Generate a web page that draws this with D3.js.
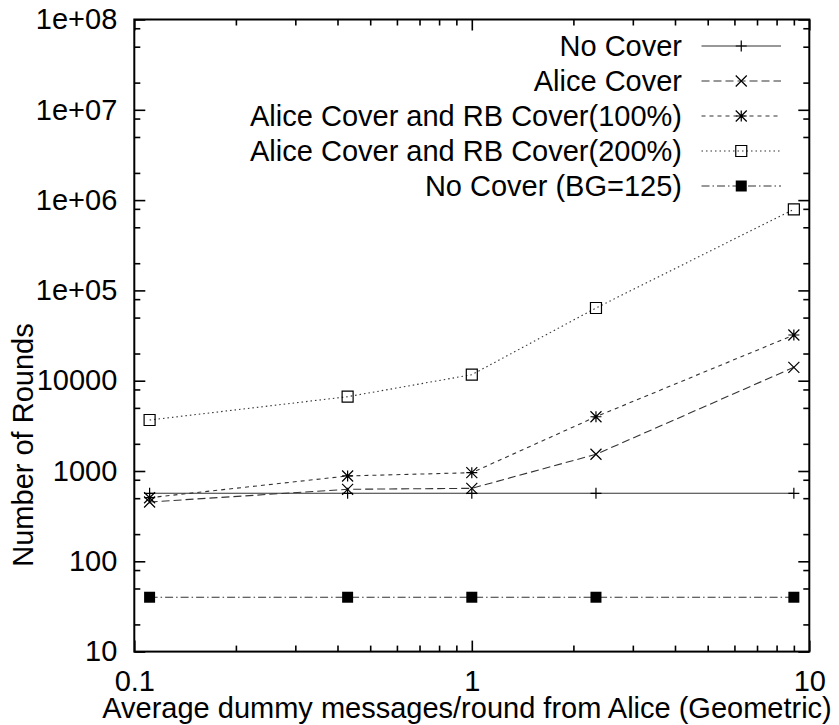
<!DOCTYPE html>
<html>
<head>
<meta charset="utf-8">
<script src="https://cdn.jsdelivr.net/npm/d3@7"></script>
<style>
  html, body { margin: 0; padding: 0; background: #fff; }
  svg { display: block; }
  text { font-family: "Liberation Sans", Arial, Helvetica, sans-serif; fill: #000; }
</style>
</head>
<body>
<svg id="chart" width="839" height="725"></svg>
<script>
// ---- data ----
const xValues = [0.111, 0.4286, 1, 2.333, 9];
const noCover = [566, 566, 566, 566, 566];
const aliceCover = [454, 627, 643, 1531, 14060];
const rbCover100 = [506, 881, 958, 3990, 32060];
const rbCover200 = [3670, 6650, 11650, 63800, 791000];
const noCoverBG125 = [40, 40, 40, 40, 40];
const seriesNames = ["No Cover", "Alice Cover", "Alice Cover and RB Cover(100%)", "Alice Cover and RB Cover(200%)", "No Cover (BG=125)"];
const xTickValues = [0.1, 1, 10];
const xTickLabels = ["0.1", "1", "10"];
const yTickValues = [10, 100, 1000, 10000, 1e5, 1e6, 1e7, 1e8];
const yTickLabels = ["10", "100", "1000", "10000", "1e+05", "1e+06", "1e+07", "1e+08"];
const xTitle = "Average dummy messages/round from Alice (Geometric)";
const yTitle = "Number of Rounds";

// ---- layout ----
const L = 134.3, R = 809.3, T = 19.5, B = 651.6;
const FS = 29;
const svg = d3.select("#chart");

const x = d3.scaleLog().domain([0.1, 10]).range([L, R]);
const y = d3.scaleLog().domain([10, 1e8]).range([B, T]);

// minor ticks
const xMinor = [];
[0.1, 1].forEach(d => { for (let k = 2; k <= 9; k++) xMinor.push(d * k); });
const yMinor = [];
[10, 100, 1000, 1e4, 1e5, 1e6, 1e7].forEach(d => { [2, 5, 8].forEach(k => yMinor.push(d * k)); });

const MAJ = 11, MIN = 6;

function styleAxis(g) {
  g.select(".domain").remove();
  g.selectAll(".tick line").attr("stroke", "#000").attr("stroke-width", 1.6);
  g.selectAll(".tick text").style("font-size", FS + "px").attr("fill", "#000");
}

// bottom major (with labels)
svg.append("g").attr("transform", `translate(0,${B})`)
  .call(d3.axisBottom(x).tickValues(xTickValues).tickFormat((d, i) => xTickLabels[i]).tickSize(-MAJ).tickPadding(19))
  .call(styleAxis);
svg.append("g").attr("transform", `translate(0,${B})`)
  .call(d3.axisBottom(x).tickValues(xMinor).tickFormat("").tickSize(-MIN))
  .call(styleAxis);
// top mirror
svg.append("g").attr("transform", `translate(0,${T})`)
  .call(d3.axisTop(x).tickValues(xTickValues).tickFormat("").tickSize(-MAJ))
  .call(styleAxis);
svg.append("g").attr("transform", `translate(0,${T})`)
  .call(d3.axisTop(x).tickValues(xMinor).tickFormat("").tickSize(-MIN))
  .call(styleAxis);
// left major with labels
svg.append("g").attr("transform", `translate(${L},0)`)
  .call(d3.axisLeft(y).tickValues(yTickValues).tickFormat((d, i) => yTickLabels[i]).tickSize(-MAJ).tickPadding(17))
  .call(styleAxis);
svg.append("g").attr("transform", `translate(${L},0)`)
  .call(d3.axisLeft(y).tickValues(yMinor).tickFormat("").tickSize(-MIN))
  .call(styleAxis);
// right mirror
svg.append("g").attr("transform", `translate(${R},0)`)
  .call(d3.axisRight(y).tickValues(yTickValues).tickFormat("").tickSize(-MAJ))
  .call(styleAxis);
svg.append("g").attr("transform", `translate(${R},0)`)
  .call(d3.axisRight(y).tickValues(yMinor).tickFormat("").tickSize(-MIN))
  .call(styleAxis);

// border
svg.append("rect").attr("x", L).attr("y", T).attr("width", R - L).attr("height", B - T)
  .attr("fill", "none").attr("stroke", "#000").attr("stroke-width", 2);

// titles
svg.append("text").attr("x", 467).attr("y", 718).attr("text-anchor", "middle")
  .style("font-size", FS + "px").text(xTitle);
svg.append("text").attr("transform", `translate(33,445) rotate(-90)`)
  .attr("text-anchor", "middle").style("font-size", FS + "px").text(yTitle);

// markers
const M = 5.5;
const markerPaths = {
  plus: `M${-M},0H${M}M0,${-M}V${M}`,
  cross: `M${-M},${-M}L${M},${M}M${-M},${M}L${M},${-M}`,
  star: `M${-M},0H${M}M0,${-M}V${M}M${-M},${-M}L${M},${M}M${-M},${M}L${M},${-M}`,
  square: `M${-M},${-M}H${M}V${M}H${-M}Z`,
  filled: `M${-M},${-M}H${M}V${M}H${-M}Z`
};

const series = [
  { name: seriesNames[0], values: noCover, dash: null, marker: "plus" },
  { name: seriesNames[1], values: aliceCover, dash: "8,4", marker: "cross" },
  { name: seriesNames[2], values: rbCover100, dash: "4,4", marker: "star" },
  { name: seriesNames[3], values: rbCover200, dash: "1.5,3", marker: "square" },
  { name: seriesNames[4], values: noCoverBG125, dash: "8,3,1.5,3", marker: "filled" }
];

const line = d3.line().x(d => x(d[0])).y(d => y(d[1]));

function drawMarker(g, type, cx, cy) {
  const p = g.append("path").attr("d", markerPaths[type]).attr("transform", `translate(${cx},${cy})`);
  if (type === "filled") p.attr("fill", "#000").attr("stroke", "none");
  else p.attr("fill", "none").attr("stroke", "#000").attr("stroke-width", 1.2);
}

const plot = svg.append("g");
series.forEach(s => {
  const pts = xValues.map((xv, i) => [xv, s.values[i]]);
  plot.append("path").datum(pts).attr("d", line)
    .attr("fill", "none").attr("stroke", "#333").attr("stroke-width", 1.1)
    .attr("stroke-dasharray", s.dash);
  pts.forEach(p => drawMarker(plot, s.marker, x(p[0]), y(p[1])));
});

// legend
const legX = 682, legY0 = 46, legStep = 35, sampleX1 = 701.5, sampleX2 = 781;
const leg = svg.append("g");
series.forEach((s, i) => {
  const yy = legY0 + i * legStep;
  leg.append("text").attr("x", legX).attr("y", yy).attr("dy", "0.35em").attr("text-anchor", "end")
    .style("font-size", FS + "px").text(s.name);
  leg.append("line").attr("x1", sampleX1).attr("x2", sampleX2).attr("y1", yy).attr("y2", yy)
    .attr("stroke", "#333").attr("stroke-width", 1.1).attr("stroke-dasharray", s.dash);
  drawMarker(leg, s.marker, (sampleX1 + sampleX2) / 2, yy);
});
</script>
</body>
</html>
